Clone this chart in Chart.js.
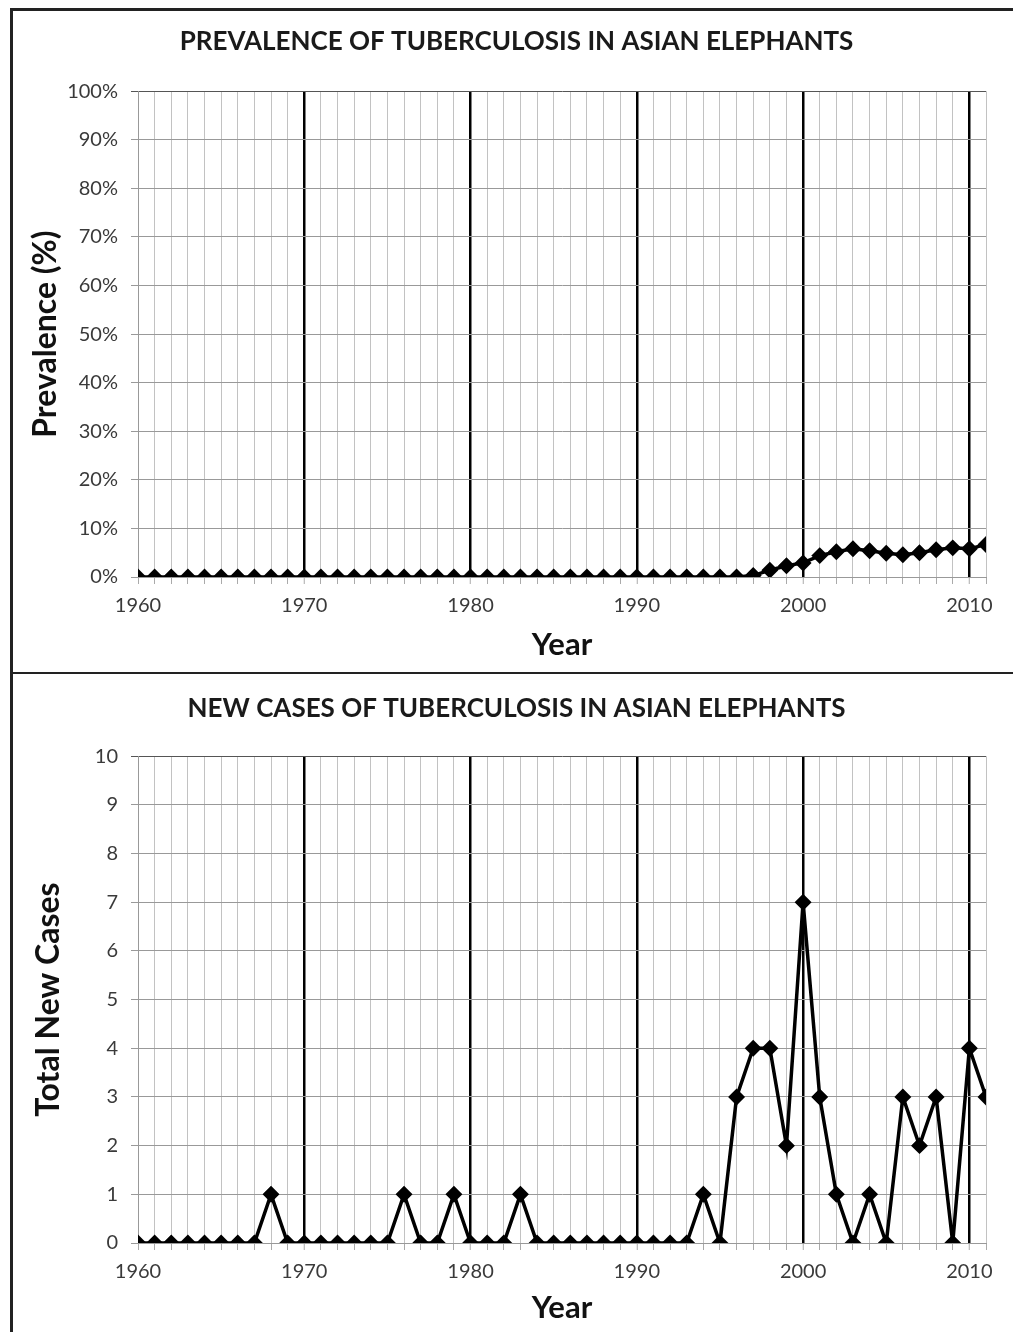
<!DOCTYPE html>
<html>
<head>
<meta charset="utf-8">
<script src="https://cdn.jsdelivr.net/npm/chart.js@4.4.1/dist/chart.umd.min.js"></script>
<style>
    body { margin: 0; background: #fff; }
    #page { position: relative; width: 1013px; height: 1332px; overflow: hidden; }
    .frame-top { position: absolute; left: 10px; top: 8px; width: 1003px; height: 3px; background: #222; }
    .frame-left { position: absolute; left: 10px; top: 8px; width: 3px; height: 1324px; background: #222; }
    .divider { position: absolute; left: 10px; top: 672px; width: 1003px; height: 2px; background: #222; }
    canvas { position: absolute; }
    #chartPrev { left: 13px; top: 11px; }
    #chartCases { left: 13px; top: 675px; }
</style>
</head>
<body>
<div id="page">
    <div class="frame-top"></div>
    <div class="frame-left"></div>
    <div class="divider"></div>
    <canvas id="chartPrev" width="1000" height="661"></canvas>
    <canvas id="chartCases" width="1000" height="657"></canvas>
</div>
<script>
const years = [
    1960, 1961, 1962, 1963, 1964, 1965, 1966, 1967, 1968, 1969,
    1970, 1971, 1972, 1973, 1974, 1975, 1976, 1977, 1978, 1979,
    1980, 1981, 1982, 1983, 1984, 1985, 1986, 1987, 1988, 1989,
    1990, 1991, 1992, 1993, 1994, 1995, 1996, 1997, 1998, 1999,
    2000, 2001, 2002, 2003, 2004, 2005, 2006, 2007, 2008, 2009,
    2010, 2011
];

// prevalence in percent
const prevalence = [
    0, 0, 0, 0, 0, 0, 0, 0, 0, 0,
    0, 0, 0, 0, 0, 0, 0, 0, 0, 0,
    0, 0, 0, 0, 0, 0, 0, 0, 0, 0,
    0, 0, 0, 0, 0, 0, 0, 0.3, 1.4, 2.3,
    2.9, 4.4, 5.2, 5.8, 5.4, 4.9, 4.6, 5.0, 5.6, 6.0,
    5.8, 6.7
];

const newCases = [
    0, 0, 0, 0, 0, 0, 0, 0, 1, 0,
    0, 0, 0, 0, 0, 0, 1, 0, 0, 1,
    0, 0, 0, 1, 0, 0, 0, 0, 0, 0,
    0, 0, 0, 0, 1, 0, 3, 4, 4, 2,
    7, 3, 1, 0, 1, 0, 3, 2, 3, 0,
    4, 3
];

const prevTicks = [0, 10, 20, 30, 40, 50, 60, 70, 80, 90, 100];
const casesTicks = [0, 1, 2, 3, 4, 5, 6, 7, 8, 9, 10];

const FONT = 'Lato, "Open Sans", sans-serif';

function isDecade(v) {
    return v % 10 === 0 && v !== 1960;
}

function makeChart(canvas, cfg) {
    return new Chart(canvas, {
        type: 'line',
        data: {
            datasets: [{
                data: years.map((y, i) => ({ x: y, y: cfg.values[i] })),
                borderColor: '#000', borderWidth: 3.5,
                pointStyle: 'rectRot', pointRadius: 6,
                pointBackgroundColor: '#000', pointBorderColor: '#000',
                tension: 0
            }]
        },
        options: {
            responsive: false, animation: false, devicePixelRatio: 1,
            // left padding shifts the chart title so it centres like the original
            layout: { padding: { left: 34, right: 27, top: 0, bottom: 0 } },
            plugins: {
                legend: { display: false }, tooltip: { enabled: false },
                title: {
                    display: true, text: cfg.title, color: '#1a1a1a',
                    font: { family: FONT, size: 26, weight: 'bold' },
                    padding: cfg.titlePad
                }
            },
            scales: {
                x: {
                    type: 'linear', min: years[0], max: years[years.length - 1],
                    afterFit: s => { s.height = cfg.xHeight; },
                    ticks: {
                        stepSize: 1, autoSkip: false, maxRotation: 0, padding: 10,
                        color: '#3a3a3a', font: { family: FONT, size: 20 },
                        callback: v => v % 10 === 0 ? String(v) : ''
                    },
                    grid: {
                        color: c => isDecade(c.tick.value) ? '#000' : '#c2c2c2',
                        lineWidth: c => isDecade(c.tick.value) ? 2.5 : 1,
                        tickColor: '#aaa', tickWidth: 1, tickLength: 7
                    },
                    border: { color: '#999', width: 1 },
                    title: {
                        display: true, text: 'Year', color: '#111',
                        font: { family: FONT, size: 31, weight: 'bold' },
                        padding: { top: 0, bottom: cfg.xTitlePad }
                    }
                },
                y: {
                    min: 0, max: cfg.ticks[cfg.ticks.length - 1],
                    afterFit: s => { s.width = 91; },
                    afterBuildTicks: s => { s.ticks = cfg.ticks.map(v => ({ value: v })); },
                    ticks: {
                        padding: 13, color: '#3a3a3a', font: { family: FONT, size: 20 },
                        callback: v => v + cfg.unit
                    },
                    grid: {
                        color: c => c.tick.value === cfg.ticks[cfg.ticks.length - 1] ? '#555' : '#999',
                        lineWidth: 1, tickLength: 7
                    },
                    border: { color: '#999', width: 1 },
                    title: {
                        display: true, text: cfg.yTitle, color: '#111',
                        font: { family: FONT, size: 32, weight: 'bold' },
                        padding: { top: cfg.yTitlePad, bottom: 0 }
                    }
                }
            }
        }
    });
}

// TOP CHART
makeChart(document.getElementById('chartPrev'), {
    title: 'PREVALENCE OF TUBERCULOSIS IN ASIAN ELEPHANTS',
    titlePad: { top: 15, bottom: 34 },
    values: prevalence,
    ticks: prevTicks,
    unit: '%',
    yTitle: 'Prevalence (%)',
    yTitlePad: -21,
    xHeight: 95,
    xTitlePad: 8
});

// BOTTOM CHART
makeChart(document.getElementById('chartCases'), {
    title: 'NEW CASES OF TUBERCULOSIS IN ASIAN ELEPHANTS',
    titlePad: { top: 18, bottom: 32 },
    values: newCases,
    ticks: casesTicks,
    unit: '',
    yTitle: 'Total New Cases',
    yTitlePad: -18,
    xHeight: 89,
    xTitlePad: 5
});
</script>
</body>
</html>
